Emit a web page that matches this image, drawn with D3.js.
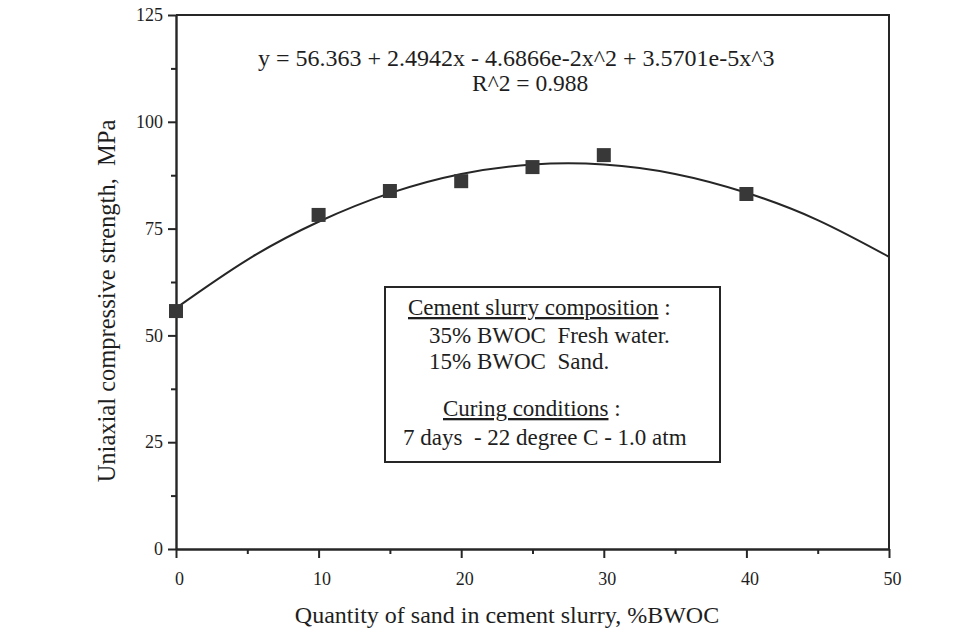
<!DOCTYPE html>
<html>
<head>
<meta charset="utf-8">
<script src="https://cdn.jsdelivr.net/npm/d3@7"></script>
<style>
  html, body { margin: 0; padding: 0; background: #ffffff; }
  svg { display: block; }
  text { font-family: "Liberation Serif", "Times New Roman", serif; fill: #1e1e1e; }
</style>
</head>
<body>
<svg id="chart" width="970" height="631"></svg>
<script>
// ---- data ----
const sandPct = [0, 10, 15, 20, 25, 30, 40];                 // %BWOC
const strength = [55.7, 78.2, 83.8, 86.1, 89.4, 92.2, 83.1];  // MPa (measured points)

const fitX = [0, 5, 10, 15, 20, 25, 30, 35, 40, 45, 50];      // fitted curve
const fitY = [56.4, 67.7, 76.6, 83.3, 87.8, 90.0, 90.0, 87.8, 83.4, 77.0, 68.4];

const xMajorTicks = [0, 10, 20, 30, 40, 50];
const xMinorTicks = [5, 15, 25, 35, 45];
const yMajorTicks = [0, 25, 50, 75, 100, 125];
const yMinorTicks = [12.5, 37.5, 62.5, 87.5, 112.5];

const xTitle = "Quantity of sand in cement slurry, %BWOC";
const yTitle = "Uniaxial compressive strength,\u00a0\u00a0MPa";
const equation = "y = 56.363 + 2.4942x - 4.6866e-2x^2 + 3.5701e-5x^3";
const rSquared = "R^2 = 0.988";

// ---- drawing ----
const svg = d3.select("#chart");
const ink = "#262626";

const x = d3.scaleLinear().domain([0, 50]).range([176, 889]);
const y = d3.scaleLinear().domain([0, 125]).range([549, 15]);

// frame (top & right)
svg.append("path")
  .attr("d", `M${x(0)},${y(125)}H${x(50)}V${y(0)}`)
  .attr("fill", "none").attr("stroke", ink).attr("stroke-width", 2);

// x axis
const gxMinor = svg.append("g").attr("transform", `translate(0,${y(0)})`)
  .call(d3.axisBottom(x).tickValues(xMinorTicks).tickSize(5).tickFormat(""));
gxMinor.select(".domain").remove();
const gx = svg.append("g").attr("transform", `translate(0,${y(0)})`)
  .call(d3.axisBottom(x).tickValues(xMajorTicks).tickSize(9).tickSizeOuter(0).tickPadding(14).tickFormat(d3.format("d")));
gx.selectAll("text").attr("font-size", 18).attr("dx", 3).style("font-family", "Liberation Serif");

// y axis
const gyMinor = svg.append("g").attr("transform", `translate(${x(0)},0)`)
  .call(d3.axisLeft(y).tickValues(yMinorTicks).tickSize(5).tickFormat(""));
gyMinor.select(".domain").remove();
const gy = svg.append("g").attr("transform", `translate(${x(0)},0)`)
  .call(d3.axisLeft(y).tickValues(yMajorTicks).tickSize(8).tickSizeOuter(0).tickPadding(5).tickFormat(d3.format("d")));
gy.selectAll("text").attr("font-size", 18).style("font-family", "Liberation Serif");

svg.selectAll(".domain").attr("stroke", ink).attr("stroke-width", 2.4);
svg.selectAll(".tick line").attr("stroke", ink).attr("stroke-width", 2);
svg.selectAll(".tick text").attr("fill", "#1e1e1e");

// fitted curve
const line = d3.line().x((d, i) => x(fitX[i])).y(d => y(d)).curve(d3.curveNatural);
svg.append("path").datum(fitY)
  .attr("d", line)
  .attr("fill", "none").attr("stroke", ink).attr("stroke-width", 2);

// points
const s = 14;
svg.append("g").selectAll("rect").data(strength).join("rect")
  .attr("x", (d, i) => x(sandPct[i]) - s / 2)
  .attr("y", d => y(d) - s / 2)
  .attr("width", s).attr("height", s)
  .attr("fill", "#383838");

// equation
svg.append("text").attr("x", 258).attr("y", 66).attr("font-size", 24).text(equation);
svg.append("text").attr("x", 472).attr("y", 91).attr("font-size", 23.5).text(rSquared);

// axis titles
svg.append("text").attr("x", 507).attr("y", 623).attr("text-anchor", "middle")
  .attr("font-size", 24).text(xTitle);
svg.append("text").attr("transform", "translate(115,301) rotate(-90)")
  .attr("text-anchor", "middle").attr("font-size", 24.5).text(yTitle);

// annotation box
svg.append("rect").attr("x", 385).attr("y", 287).attr("width", 335).attr("height", 175)
  .attr("fill", "#fff").attr("stroke", ink).attr("stroke-width", 2);

const box = svg.append("g").attr("font-size", 23);
const t1 = box.append("text").attr("x", 408).attr("y", 315);
t1.append("tspan").style("text-decoration", "underline").text("Cement slurry composition");
t1.append("tspan").text(" :");
box.append("text").attr("x", 429).attr("y", 343).style("white-space", "pre").text("35% BWOC  Fresh water.");
box.append("text").attr("x", 429).attr("y", 369).style("white-space", "pre").text("15% BWOC  Sand.");
const t4 = box.append("text").attr("x", 443).attr("y", 416);
t4.append("tspan").style("text-decoration", "underline").text("Curing conditions");
t4.append("tspan").text(" :");
box.append("text").attr("x", 403).attr("y", 445).style("white-space", "pre").text("7 days  - 22 degree C - 1.0 atm");
</script>
</body>
</html>
